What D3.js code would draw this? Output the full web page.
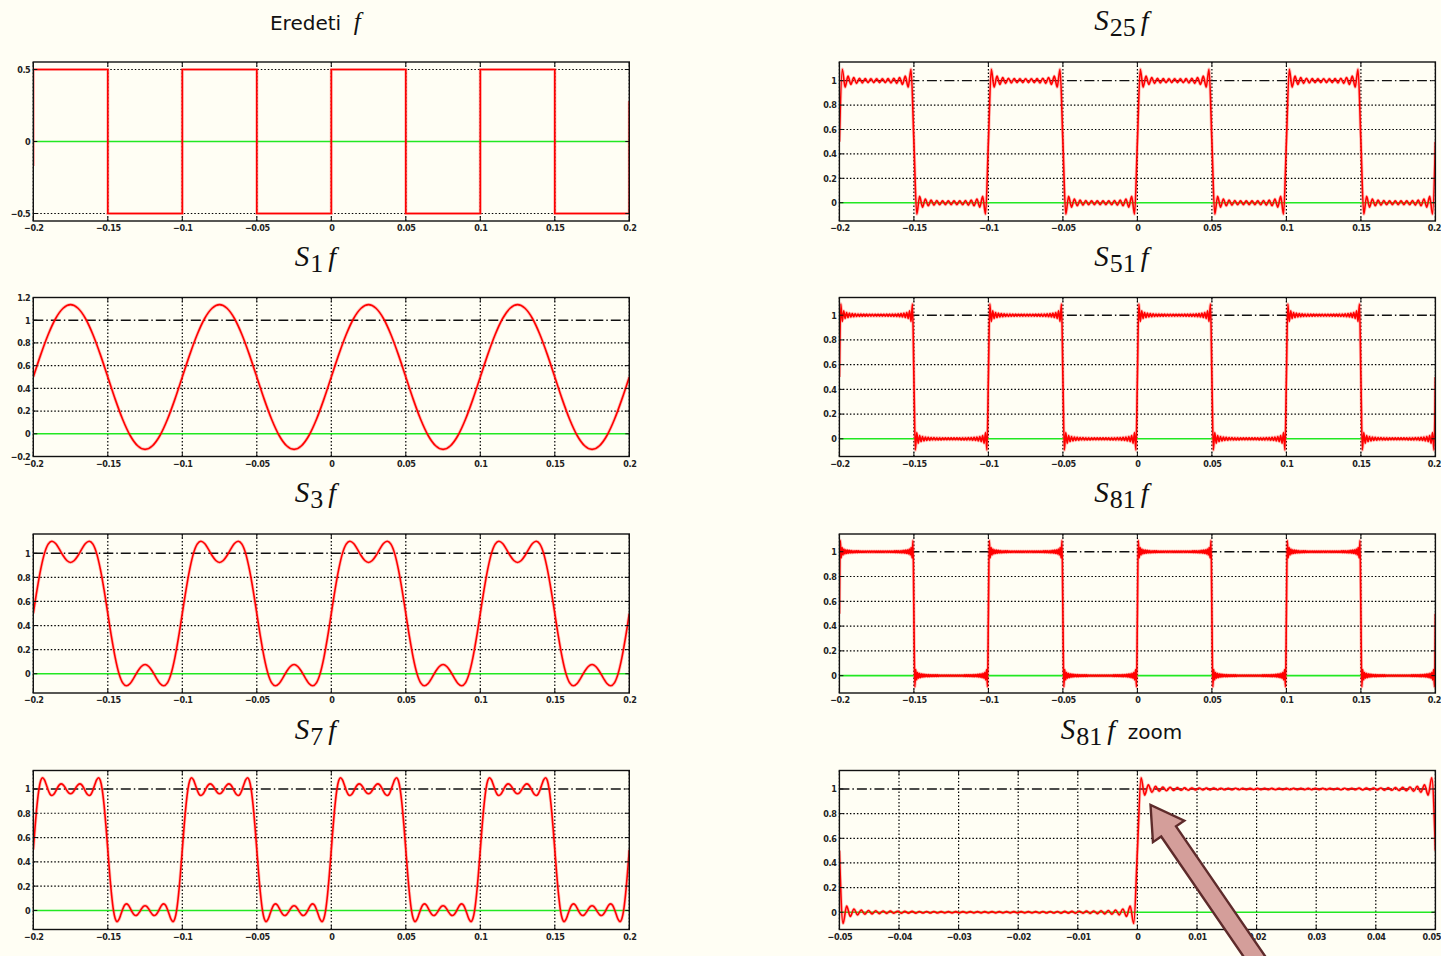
<!DOCTYPE html>
<html>
<head>
<meta charset="utf-8">
<script src="https://cdn.jsdelivr.net/npm/d3@7"></script>
<style>
  body { margin: 0; background: #fffef4; }
  svg { display: block; }
  .tick text { font-family: "DejaVu Sans Condensed", "DejaVu Sans", sans-serif; font-size: 9px; font-weight: bold; letter-spacing: -0.4px; fill: #222; }
</style>
</head>
<body>
<div id="chart"></div>
<script>
// tick labels
var xTicksWide = [-0.2, -0.15, -0.1, -0.05, 0, 0.05, 0.1, 0.15, 0.2];
var xTicksZoom = [-0.05, -0.04, -0.03, -0.02, -0.01, 0, 0.01, 0.02, 0.03, 0.04, 0.05];
var yTicksOrig = [-0.5, 0, 0.5];
var yTicksS1 = [-0.2, 0, 0.2, 0.4, 0.6, 0.8, 1, 1.2];
var yTicksUnit = [0, 0.2, 0.4, 0.6, 0.8, 1];

// original square wave f, as plotted
var origX = [-0.2, -0.2, -0.15, -0.15, -0.1, -0.1, -0.05, -0.05, 0, 0, 0.05, 0.05, 0.1, 0.1, 0.15, 0.15, 0.2, 0.2];
var origY = [-0.17, 0.5, 0.5, -0.5, -0.5, 0.5, 0.5, -0.5, -0.5, 0.5, 0.5, -0.5, -0.5, 0.5, 0.5, -0.5, -0.5, 0.28];

// value of every partial sum at a jump
var edgeLevel = 0.5;
var halfPeriod = 0.05;

// partial sums: values inside one high half-period and one low half-period (evenly spaced)
var s1High = [0.697, 0.874, 1.015, 1.105, 1.137, 1.105, 1.015, 0.874, 0.697];
var s1Low = [0.303, 0.126, -0.015, -0.105, -0.137, -0.105, -0.015, 0.126, 0.303];

var s3High = [0.696, 0.868, 0.999, 1.076, 1.100, 1.081, 1.034, 0.981, 0.940, 0.924, 0.940, 0.981, 1.034, 1.081, 1.100, 1.076, 0.999, 0.868, 0.696];
var s3Low = [0.304, 0.132, 0.001, -0.076, -0.100, -0.081, -0.034, 0.019, 0.060, 0.076, 0.060, 0.019, -0.034, -0.081, -0.100, -0.076, 0.001, 0.132, 0.304];

var s7High = [0.696, 0.867, 0.995, 1.069, 1.092, 1.074, 1.034, 0.990, 0.957, 0.946, 0.956, 0.981, 1.011, 1.034, 1.042, 1.034, 1.014, 0.988, 0.968,
  0.961,
  0.968, 0.988, 1.014, 1.034, 1.042, 1.034, 1.011, 0.981, 0.956, 0.946, 0.957, 0.990, 1.034, 1.074, 1.092, 1.069, 0.995, 0.867, 0.696];
var s7Low = [0.304, 0.133, 0.005, -0.069, -0.092, -0.074, -0.034, 0.010, 0.043, 0.054, 0.044, 0.019, -0.011, -0.034, -0.042, -0.034, -0.014, 0.012, 0.032,
  0.039,
  0.032, 0.012, -0.014, -0.034, -0.042, -0.034, -0.011, 0.019, 0.044, 0.054, 0.043, 0.010, -0.034, -0.074, -0.092, -0.069, 0.005, 0.133, 0.304];

var s25High = [1.094, 0.947, 1.037, 0.970, 1.025, 0.978, 1.020, 0.982, 1.017, 0.984, 1.016, 0.984, 1.016,
  0.984, 1.016, 0.984, 1.017, 0.982, 1.020, 0.978, 1.025, 0.970, 1.037, 0.947, 1.094];
var s25Low = [-0.094, 0.053, -0.037, 0.030, -0.025, 0.022, -0.020, 0.018, -0.017, 0.016, -0.016, 0.016, -0.016,
  0.016, -0.016, 0.016, -0.017, 0.018, -0.020, 0.022, -0.025, 0.030, -0.037, 0.053, -0.094];

var s51High = [1.091, 0.949, 1.035, 0.973, 1.022, 0.981, 1.017, 0.985, 1.014, 0.987, 1.012, 0.989, 1.010, 0.990, 1.010, 0.991, 1.009, 0.991, 1.009, 0.992, 1.008, 0.992, 1.008, 0.992, 1.008, 0.992,
  1.008, 0.992, 1.008, 0.992, 1.008, 0.992, 1.009, 0.991, 1.009, 0.991, 1.010, 0.990, 1.010, 0.989, 1.012, 0.987, 1.014, 0.985, 1.017, 0.981, 1.022, 0.973, 1.035, 0.949, 1.091];
var s51Low = [-0.091, 0.051, -0.035, 0.027, -0.022, 0.019, -0.017, 0.015, -0.014, 0.013, -0.012, 0.011, -0.010, 0.010, -0.010, 0.009, -0.009, 0.009, -0.009, 0.008, -0.008, 0.008, -0.008, 0.008, -0.008, 0.008,
  -0.008, 0.008, -0.008, 0.008, -0.008, 0.008, -0.009, 0.009, -0.009, 0.009, -0.010, 0.010, -0.010, 0.011, -0.012, 0.013, -0.014, 0.015, -0.017, 0.019, -0.022, 0.027, -0.035, 0.051, -0.091];

var s81High = [1.091, 0.950, 1.034, 0.974, 1.021, 0.982, 1.016, 0.986, 1.013, 0.988,
  1.011, 0.990, 1.009, 0.991, 1.008, 0.992, 1.008, 0.993, 1.007, 0.993,
  1.007, 0.994, 1.006, 0.994, 1.006, 0.994, 1.006, 0.995, 1.005, 0.995,
  1.005, 0.995, 1.005, 0.995, 1.005, 0.995, 1.005, 0.995, 1.005, 0.995,
  1.005,
  0.995, 1.005, 0.995, 1.005, 0.995, 1.005, 0.995, 1.005, 0.995, 1.005,
  0.995, 1.005, 0.995, 1.006, 0.994, 1.006, 0.994, 1.006, 0.994, 1.007,
  0.993, 1.007, 0.993, 1.008, 0.992, 1.008, 0.991, 1.009, 0.990, 1.011,
  0.988, 1.013, 0.986, 1.016, 0.982, 1.021, 0.974, 1.034, 0.950, 1.091];
var s81Low = [-0.091, 0.050, -0.034, 0.026, -0.021, 0.018, -0.016, 0.014, -0.013, 0.012,
  -0.011, 0.010, -0.009, 0.009, -0.008, 0.008, -0.008, 0.007, -0.007, 0.007,
  -0.007, 0.006, -0.006, 0.006, -0.006, 0.006, -0.006, 0.005, -0.005, 0.005,
  -0.005, 0.005, -0.005, 0.005, -0.005, 0.005, -0.005, 0.005, -0.005, 0.005,
  -0.005,
  0.005, -0.005, 0.005, -0.005, 0.005, -0.005, 0.005, -0.005, 0.005, -0.005,
  0.005, -0.005, 0.005, -0.006, 0.006, -0.006, 0.006, -0.006, 0.006, -0.007,
  0.007, -0.007, 0.007, -0.008, 0.008, -0.008, 0.009, -0.009, 0.010, -0.011,
  0.012, -0.013, 0.014, -0.016, 0.018, -0.021, 0.026, -0.034, 0.050, -0.091];

// arrow annotation in the zoom panel (data units)
var arrowTip = [0.0022, 0.87];
var arrowTail = [0.0205, -0.42];

// build the plotted points of a partial sum from its half-period values
function buildSeries(high, low, x0, halves, startLow) {
  var pts = [];
  var step = halfPeriod / (high.length + 1);
  for (var h = 0; h < halves; h++) {
    var start = x0 + h * halfPeriod;
    pts.push([start, edgeLevel]);
    var isLow = (h % 2 == 1) != !!startLow;
    var vals = isLow ? low : high;
    for (var i = 0; i < vals.length; i++) {
      pts.push([start + (i + 1) * step, vals[i]]);
    }
  }
  pts.push([x0 + halves * halfPeriod, edgeLevel]);
  return pts;
}

var origPts = origX.map(function(x, i) { return [x, origY[i]]; });

var width = 1441,
    height = 956,
    colLeft = [33.3, 839.4],
    rowTop = [62, 297.5, 534, 770.5],
    panelW = 596,
    panelH = 159;

var panels = [
  { col: 0, row: 0, title: 'orig', yDomain: [-0.552, 0.552], yTicks: yTicksOrig, xDomain: [-0.2, 0.2], xTicks: xTicksWide, pts: origPts, linear: true },
  { col: 0, row: 1, title: '1', yDomain: [-0.2, 1.2], yTicks: yTicksS1, xDomain: [-0.2, 0.2], xTicks: xTicksWide, pts: buildSeries(s1High, s1Low, -0.2, 8) },
  { col: 0, row: 2, title: '3', yDomain: [-0.16, 1.16], yTicks: yTicksUnit, xDomain: [-0.2, 0.2], xTicks: xTicksWide, pts: buildSeries(s3High, s3Low, -0.2, 8) },
  { col: 0, row: 3, title: '7', yDomain: [-0.157, 1.152], yTicks: yTicksUnit, xDomain: [-0.2, 0.2], xTicks: xTicksWide, pts: buildSeries(s7High, s7Low, -0.2, 8) },
  { col: 1, row: 0, title: '25', yDomain: [-0.15, 1.153], yTicks: yTicksUnit, xDomain: [-0.2, 0.2], xTicks: xTicksWide, pts: buildSeries(s25High, s25Low, -0.2, 8) },
  { col: 1, row: 1, title: '51', yDomain: [-0.143, 1.143], yTicks: yTicksUnit, xDomain: [-0.2, 0.2], xTicks: xTicksWide, pts: buildSeries(s51High, s51Low, -0.2, 8) },
  { col: 1, row: 2, title: '81', yDomain: [-0.14, 1.143], yTicks: yTicksUnit, xDomain: [-0.2, 0.2], xTicks: xTicksWide, pts: buildSeries(s81High, s81Low, -0.2, 8) },
  { col: 1, row: 3, title: '81', zoom: true, yDomain: [-0.14, 1.15], yTicks: yTicksUnit, xDomain: [-0.05, 0.05], xTicks: xTicksZoom, pts: buildSeries(s81High, s81Low, -0.05, 2, true) }
];

var svg = d3.select('#chart').append('svg')
  .attr('width', width)
  .attr('height', height);

svg.append('rect').attr('width', width).attr('height', height).attr('fill', '#fffef4');

var fmt = d3.format('~g');
var zoomScales = null;

panels.forEach(function(p, k) {
  var left = colLeft[p.col], top = rowTop[p.row];
  var g = svg.append('g').attr('transform', 'translate(' + left + ',' + top + ')');

  var x = d3.scaleLinear().domain(p.xDomain).range([0, panelW]);
  var y = d3.scaleLinear().domain(p.yDomain).range([panelH, 0]);
  if (p.zoom) zoomScales = { x: x, y: y };

  g.append('clipPath').attr('id', 'clip' + k)
    .append('rect').attr('width', panelW).attr('height', panelH);

  // grid
  g.selectAll('.vgrid').data(p.xTicks).enter().append('line')
    .attr('x1', function(d) { return x(d); })
    .attr('x2', function(d) { return x(d); })
    .attr('y1', 0).attr('y2', panelH)
    .attr('stroke', '#000').attr('stroke-width', 1.2)
    .attr('stroke-dasharray', '1.5,2');

  g.selectAll('.hgrid').data(p.yTicks.filter(function(d) { return d != 0 && (p.title == 'orig' || d != 1); })).enter().append('line')
    .attr('x1', 0).attr('x2', panelW)
    .attr('y1', function(d) { return y(d); })
    .attr('y2', function(d) { return y(d); })
    .attr('stroke', '#000').attr('stroke-width', 1.2)
    .attr('stroke-dasharray', '1.5,2');

  var plot = g.append('g').attr('clip-path', 'url(#clip' + k + ')');

  if (p.title != 'orig') {
    plot.append('line')
      .attr('x1', 0).attr('x2', panelW)
      .attr('y1', y(1)).attr('y2', y(1))
      .attr('stroke', '#111').attr('stroke-width', 1.4)
      .attr('stroke-dasharray', '10,3,1.5,3');
  }

  plot.append('line')
    .attr('x1', 0).attr('x2', panelW)
    .attr('y1', y(0)).attr('y2', y(0))
    .attr('stroke', '#22e822').attr('stroke-width', 1.6);

  var line = d3.line()
    .x(function(d) { return x(d[0]); })
    .y(function(d) { return y(d[1]); })
    .curve(p.linear ? d3.curveLinear : d3.curveMonotoneX);

  plot.append('path')
    .attr('d', line(p.pts))
    .attr('fill', 'none')
    .attr('stroke', '#ff3030')
    .attr('stroke-opacity', 0.3)
    .attr('stroke-width', 3.2);

  plot.append('path')
    .attr('d', line(p.pts))
    .attr('fill', 'none')
    .attr('stroke', '#ff0000')
    .attr('stroke-width', 1.6);

  // inward tick marks
  g.selectAll('.tt').data(p.xTicks).enter().append('path')
    .attr('d', function(d) { return 'M' + x(d) + ',0v4M' + x(d) + ',' + panelH + 'v-4'; })
    .attr('stroke', '#111');
  g.selectAll('.ty').data(p.yTicks).enter().append('path')
    .attr('d', function(d) { return 'M0,' + y(d) + 'h4M' + panelW + ',' + y(d) + 'h-4'; })
    .attr('stroke', '#111');

  g.append('rect')
    .attr('width', panelW).attr('height', panelH)
    .attr('fill', 'none').attr('stroke', '#111').attr('stroke-width', 1.4);

  var xa = g.append('g')
    .attr('transform', 'translate(0,' + panelH + ')')
    .call(d3.axisBottom(x).tickValues(p.xTicks).tickFormat(fmt).tickSize(0).tickPadding(4))
    .call(function(a) { a.select('.domain').remove(); });

  // keep the last label of the right column inside the page
  if (p.col == 1) {
    xa.selectAll('.tick text')
      .filter(function(d, i, nodes) { return i == nodes.length - 1; })
      .attr('text-anchor', 'end')
      .attr('dx', 5);
  }

  g.append('g')
    .call(d3.axisLeft(y).tickValues(p.yTicks).tickFormat(fmt).tickSize(0).tickPadding(3))
    .call(function(a) { a.select('.domain').remove(); });

  // title
  var t = g.append('text')
    .attr('x', panelW / 2 - 16)
    .attr('y', -32)
    .attr('text-anchor', 'middle')
    .attr('fill', '#111');
  if (p.title == 'orig') {
    t.append('tspan').attr('font-family', '"DejaVu Sans", sans-serif').attr('font-size', 20).text('Eredeti ');
    t.append('tspan').attr('font-family', '"Liberation Serif", serif').attr('font-style', 'italic').attr('font-size', 25).text('\u00a0f');
  } else {
    t.append('tspan').attr('font-family', '"Liberation Serif", serif').attr('font-style', 'italic').attr('font-size', 29).text('S');
    t.append('tspan').attr('font-family', '"Liberation Serif", serif').attr('font-size', 26).attr('dy', 6).attr('dx', 1).text(p.title);
    t.append('tspan').attr('font-family', '"Liberation Serif", serif').attr('font-style', 'italic').attr('font-size', 28).attr('dy', -6).attr('dx', 5).text('f');
    if (p.zoom) {
      t.append('tspan').attr('font-family', '"DejaVu Sans", sans-serif').attr('font-size', 20).text('\u00a0 zoom');
    }
  }
});

// arrow pointing at the Gibbs overshoot
(function() {
  var left = colLeft[1], top = rowTop[3];
  var tip = [left + zoomScales.x(arrowTip[0]), top + zoomScales.y(arrowTip[1])];
  var tail = [left + zoomScales.x(arrowTail[0]), top + zoomScales.y(arrowTail[1])];
  var dx = tip[0] - tail[0], dy = tip[1] - tail[1];
  var len = Math.sqrt(dx * dx + dy * dy);
  var u = [dx / len, dy / len], n = [-u[1], u[0]];
  var shaftW = 18, headW = 38, headL = 32;
  var base = [tip[0] - u[0] * headL, tip[1] - u[1] * headL];
  var pts = [
    [tail[0] + n[0] * shaftW / 2, tail[1] + n[1] * shaftW / 2],
    [base[0] + n[0] * shaftW / 2, base[1] + n[1] * shaftW / 2],
    [base[0] + n[0] * headW / 2, base[1] + n[1] * headW / 2],
    tip,
    [base[0] - n[0] * headW / 2, base[1] - n[1] * headW / 2],
    [base[0] - n[0] * shaftW / 2, base[1] - n[1] * shaftW / 2],
    [tail[0] - n[0] * shaftW / 2, tail[1] - n[1] * shaftW / 2]
  ];
  svg.append('path')
    .attr('d', d3.line()(pts) + 'Z')
    .attr('fill', '#d49e9a')
    .attr('stroke', '#5e2b2b')
    .attr('stroke-width', 2.4)
    .attr('stroke-linejoin', 'miter');
})();
</script>
</body>
</html>
